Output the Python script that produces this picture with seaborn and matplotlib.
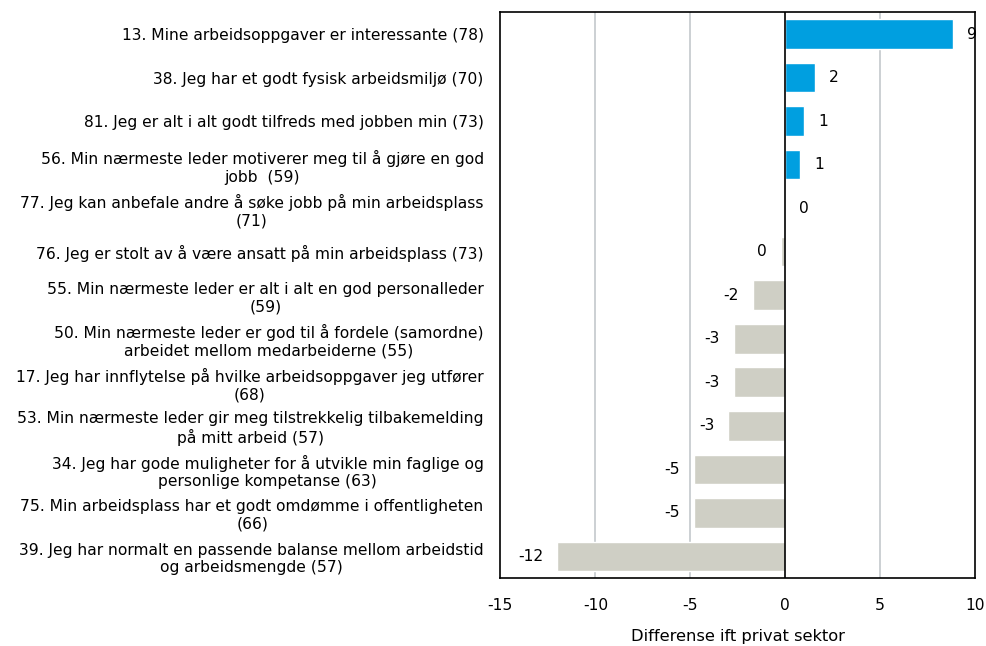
import matplotlib
matplotlib.use("Agg")
import matplotlib.pyplot as plt
import seaborn as sns
import pandas as pd

# Data
statements = [
    "13. Mine arbeidsoppgaver er interessante (78)",
    "38. Jeg har et godt fysisk arbeidsmiljø (70)",
    "81. Jeg er alt i alt godt tilfreds med jobben min (73)",
    "56. Min nærmeste leder motiverer meg til å gjøre en god\njobb  (59)",
    "77. Jeg kan anbefale andre å søke jobb på min arbeidsplass\n(71)",
    "76. Jeg er stolt av å være ansatt på min arbeidsplass (73)",
    "55. Min nærmeste leder er alt i alt en god personalleder\n(59)",
    "50. Min nærmeste leder er god til å fordele (samordne)\narbeidet mellom medarbeiderne (55)",
    "17. Jeg har innflytelse på hvilke arbeidsoppgaver jeg utfører\n(68)",
    "53. Min nærmeste leder gir meg tilstrekkelig tilbakemelding\npå mitt arbeid (57)",
    "34. Jeg har gode muligheter for å utvikle min faglige og\npersonlige kompetanse (63)",
    "75. Min arbeidsplass har et godt omdømme i offentligheten\n(66)",
    "39. Jeg har normalt en passende balanse mellom arbeidstid\nog arbeidsmengde (57)",
]
diff = [8.85, 1.55, 1.0, 0.8, 0.0, -0.25, -1.7, -2.7, -2.7, -3.0, -4.8, -4.8, -12.0]
value_labels = ["9", "2", "1", "1", "0", "0", "-2", "-3", "-3", "-3", "-5", "-5", "-12"]
x_ticks = [-15, -10, -5, 0, 5, 10]

COLORS = {"pos": "#009FE0", "neg": "#CFCFC5"}
FS = 11.2

df = pd.DataFrame({"statement": statements, "diff": diff})
df["sign"] = ["pos" if v >= 0 else "neg" for v in diff]

sns.set_theme(style="white")
plt.rcParams["font.family"] = ["DejaVu Sans"]
plt.rcParams["text.color"] = "black"
plt.rcParams["xtick.color"] = "black"
plt.rcParams["ytick.color"] = "black"
plt.rcParams["axes.labelcolor"] = "black"

fig = plt.figure(figsize=(9.87, 6.46), dpi=100)
ax = fig.add_axes([0.507, 0.105, 0.481, 0.876])

sns.barplot(
    data=df, x="diff", y="statement", hue="sign", palette=COLORS,
    orient="h", dodge=False, legend=False, width=0.68, saturation=1,
    ax=ax,
)

ax.set_xlim(-15, 10)
ax.set_xticks(x_ticks)
ax.set_xticklabels([str(t) for t in x_ticks], fontsize=FS)
for t in [-10, -5, 5]:
    ax.axvline(t, color="#C4C8CC", linewidth=1.2, zorder=0)
ax.axvline(0, color="black", linewidth=1.2, zorder=3)

for spine in ax.spines.values():
    spine.set_visible(True)
    spine.set_color("black")
    spine.set_linewidth(1.2)

ax.tick_params(axis="x", length=0, pad=14)
ax.tick_params(axis="y", length=0, pad=12)
for lab in ax.get_yticklabels():
    lab.set_fontsize(FS)
    lab.set_multialignment("center")

for i, (v, txt) in enumerate(zip(diff, value_labels)):
    if v >= 0:
        ax.annotate(txt, (v, i), xytext=(10, 0), textcoords="offset points",
                    ha="left", va="center", fontsize=FS)
    else:
        ax.annotate(txt, (v, i), xytext=(-10, 0), textcoords="offset points",
                    ha="right", va="center", fontsize=FS)

ax.set_ylabel("")
ax.set_xlabel("Differense ift privat sektor", fontsize=FS + 0.5, labelpad=12)

fig.savefig("out.png", dpi=100)
